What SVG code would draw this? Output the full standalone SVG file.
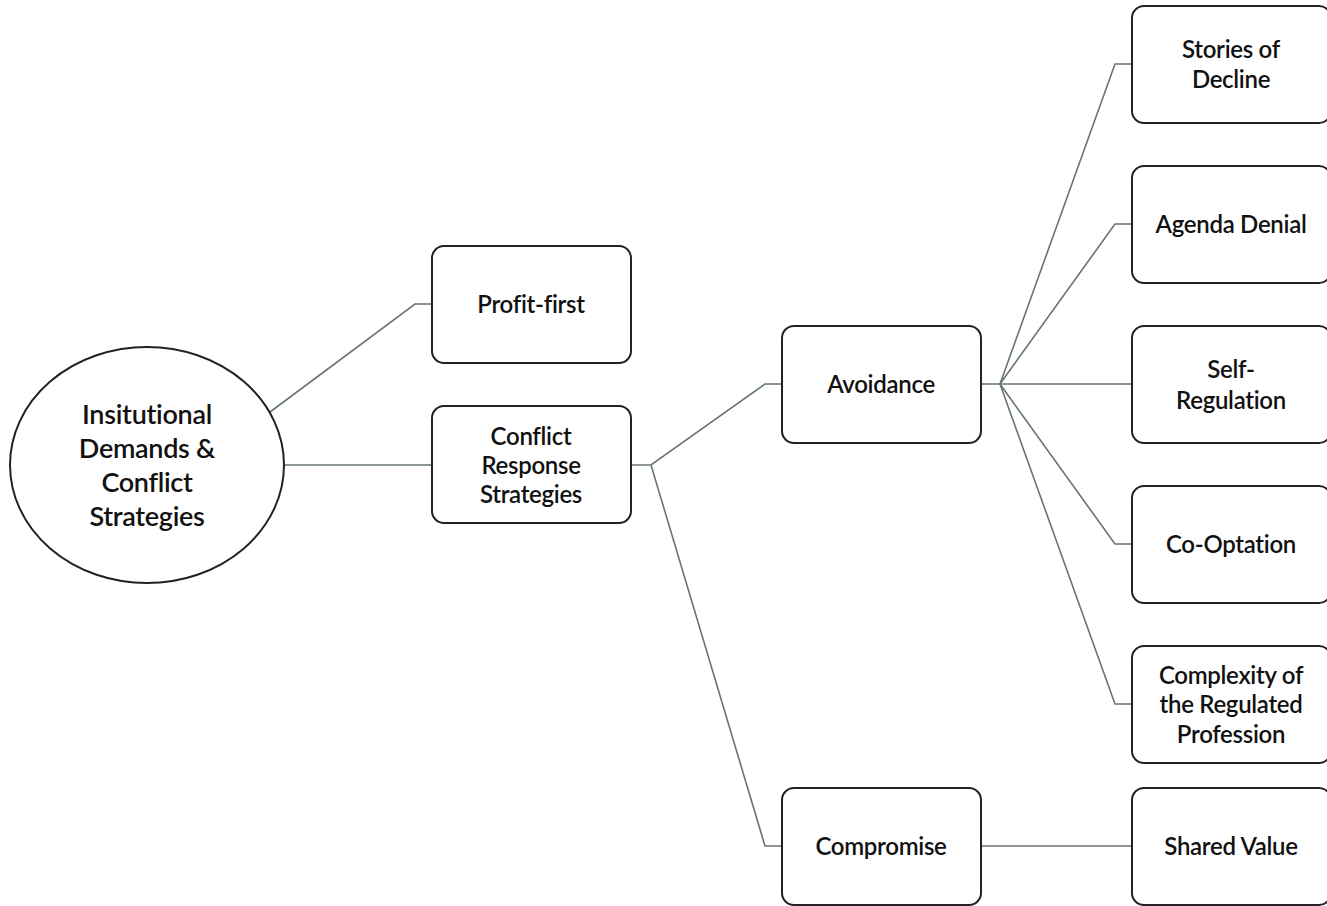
<svg xmlns="http://www.w3.org/2000/svg" width="1327" height="906" viewBox="0 0 1327 906">
<style>
.box{fill:#fff;stroke:#222;stroke-width:2}
.c{fill:none;stroke:#66756f;stroke-width:1.6}
.t{font-family:Lato,"Liberation Sans",sans-serif;font-size:24px;fill:#111;text-anchor:middle;font-weight:600;letter-spacing:-0.3px}
.tc{font-size:27px}
</style>
<rect width="1327" height="906" fill="#fff"/>
<g id="connectors">
<path class="c" d="M270,412 L415,304 L432,304"/>
<path class="c" d="M283,465 L432,465"/>
<path class="c" d="M631,465 L651,465 L765,384 L782,384"/>
<path class="c" d="M651,465 L765,846 L782,846"/>
<path class="c" d="M981,384 L1000,384 L1115,64 L1132,64"/>
<path class="c" d="M1000,384 L1115,224 L1132,224"/>
<path class="c" d="M1000,384 L1132,384"/>
<path class="c" d="M1000,384 L1115,544 L1132,544"/>
<path class="c" d="M1000,384 L1115,704 L1132,704"/>
<path class="c" d="M981,846 L1132,846"/>
</g>
<g id="root">
<ellipse class="box" cx="147" cy="465" rx="137" ry="118"/>
<text class="t tc" x="147" y="424">Insitutional</text>
<text class="t tc" x="147" y="458">Demands &amp;</text>
<text class="t tc" x="147" y="492">Conflict</text>
<text class="t tc" x="147" y="526">Strategies</text>
</g>
<g id="profit-first">
<rect class="box" x="432" y="246" width="199" height="117" rx="12"/>
<text class="t" x="531" y="313">Profit-first</text>
</g>
<g id="conflict-response">
<rect class="box" x="432" y="406" width="199" height="117" rx="12"/>
<text class="t" x="531" y="445">Conflict</text>
<text class="t" x="531" y="474">Response</text>
<text class="t" x="531" y="503">Strategies</text>
</g>
<g id="avoidance">
<rect class="box" x="782" y="326" width="199" height="117" rx="12"/>
<text class="t" x="881" y="393">Avoidance</text>
</g>
<g id="compromise">
<rect class="box" x="782" y="788" width="199" height="117" rx="12"/>
<text class="t" x="881" y="855">Compromise</text>
</g>
<g id="stories">
<rect class="box" x="1132" y="6" width="199" height="117" rx="12"/>
<text class="t" x="1231" y="58">Stories of</text>
<text class="t" x="1231" y="88">Decline</text>
</g>
<g id="agenda">
<rect class="box" x="1132" y="166" width="199" height="117" rx="12"/>
<text class="t" x="1231" y="233">Agenda Denial</text>
</g>
<g id="self-regulation">
<rect class="box" x="1132" y="326" width="199" height="117" rx="12"/>
<text class="t" x="1231" y="378">Self-</text>
<text class="t" x="1231" y="409">Regulation</text>
</g>
<g id="co-optation">
<rect class="box" x="1132" y="486" width="199" height="117" rx="12"/>
<text class="t" x="1231" y="553">Co-Optation</text>
</g>
<g id="complexity">
<rect class="box" x="1132" y="646" width="199" height="117" rx="12"/>
<text class="t" x="1231" y="684">Complexity of</text>
<text class="t" x="1231" y="713">the Regulated</text>
<text class="t" x="1231" y="743">Profession</text>
</g>
<g id="shared-value">
<rect class="box" x="1132" y="788" width="199" height="117" rx="12"/>
<text class="t" x="1231" y="855">Shared Value</text>
</g>
</svg>
